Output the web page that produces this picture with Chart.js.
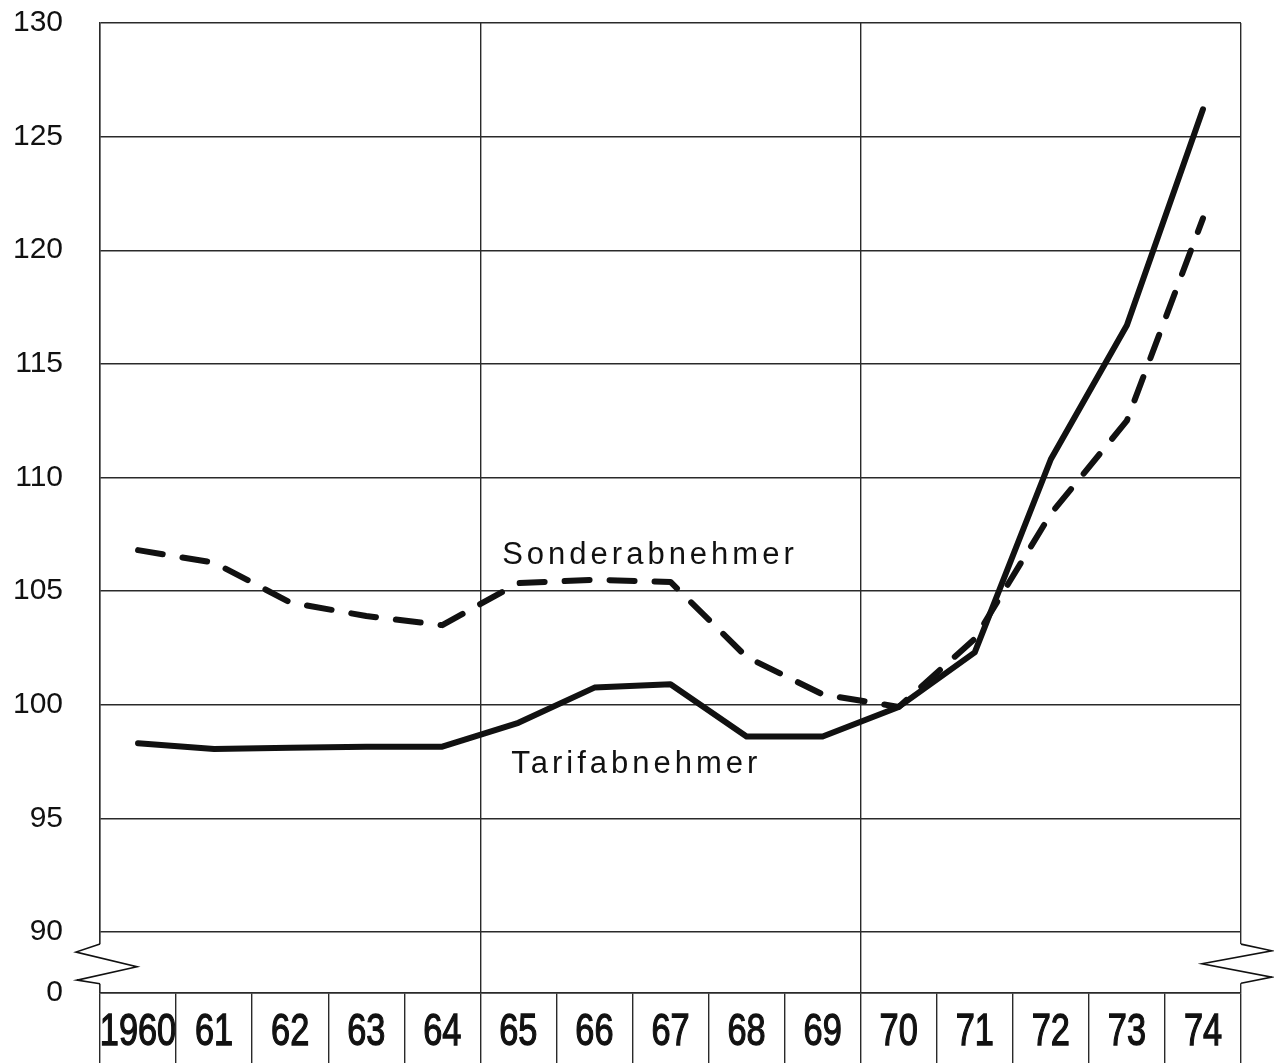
<!DOCTYPE html>
<html>
<head>
<meta charset="utf-8">
<script src="https://cdn.jsdelivr.net/npm/chart.js@4/dist/chart.umd.min.js"></script>
<style>
  html, body { margin: 0; padding: 0; background: #fff; }
  #wrap { width: 1274px; height: 1063px; position: relative; }
</style>
</head>
<body>
<div id="wrap"><canvas id="c" width="1274" height="1063"></canvas></div>
<script>
// ---- data ----
const years = ['1960', '61', '62', '63', '64', '65', '66', '67', '68', '69', '70', '71', '72', '73', '74'];
const tarifabnehmer = [98.3, 98.05, 98.1, 98.15, 98.15, 99.2, 100.75, 100.9, 98.6, 98.6, 99.9, 102.3, 110.8, 116.7, 126.2];
const sonderabnehmer = [106.8, 106.25, 104.5, 103.9, 103.5, 105.35, 105.5, 105.4, 102.1, 100.45, 99.9, 102.9, 108.4, 112.5, 121.4];
const yTickValues = [90, 95, 100, 105, 110, 115, 120, 125, 130];
const yBreakLabel = '0';
const seriesNames = ['Tarifabnehmer', 'Sonderabnehmer'];

const INK = '#111';
const GRID = '#2a2a2a';
const Y_MAX = 130;
const Y_BREAK = 87.31; // axis bottom, labelled "0" (broken axis)

// Category axis whose tick labels are drawn with narrow (condensed) glyphs
const BaseCategory = Chart.CategoryScale;
class CondensedCategoryScale extends BaseCategory {
  drawLabels(area) {
    const ctx = this.ctx;
    const proto = CanvasRenderingContext2D.prototype;
    const sx = this.options.ticks.condense || 1;
    const wrap = orig => function (t, x, y) {
      this.save();
      this.translate(x, y);
      this.scale(sx, 1);
      orig.call(this, t, 0, 0);
      this.restore();
    };
    ctx.fillText = wrap(proto.fillText);
    ctx.strokeText = wrap(proto.strokeText);
    try { super.drawLabels(area); } finally { delete ctx.fillText; delete ctx.strokeText; }
  }
}
CondensedCategoryScale.id = 'condensedCategory';
CondensedCategoryScale.defaults = BaseCategory.defaults;
Chart.register(CondensedCategoryScale);

const labelPlugin = {
  id: 'seriesLabels',
  afterDatasetsDraw(chart, args, opts) {
    const { ctx, scales: { x, y } } = chart;
    ctx.save();
    ctx.fillStyle = INK;
    ctx.font = '31px "Liberation Sans", Arial, sans-serif';
    ctx.textAlign = 'center';
    ctx.textBaseline = 'alphabetic';
    if ('letterSpacing' in ctx) ctx.letterSpacing = '4px';
    opts.items.forEach(it => {
      ctx.fillText(it.text, x.getPixelForValue(it.at), y.getPixelForValue(it.value));
    });
    ctx.restore();
  }
};

const breakPlugin = {
  id: 'axisBreak',
  afterDraw(chart) {
    const { ctx, chartArea: a, scales: { y } } = chart;
    const y90 = y.getPixelForValue(90);
    const y0 = a.bottom;
    const span = y0 - y90;
    const t = f => y90 + span * f;
    ctx.save();
    ctx.fillStyle = '#fff';
    ctx.fillRect(a.left - 3, t(0.2), 6, t(0.85) - t(0.2));
    ctx.fillRect(a.right - 3, t(0.2), 6, t(0.84) - t(0.2));
    ctx.strokeStyle = INK;
    ctx.lineWidth = 1.6;
    ctx.lineJoin = 'miter';
    ctx.beginPath();
    ctx.moveTo(a.left, t(0.2));
    ctx.lineTo(a.left - 24, t(0.33));
    ctx.lineTo(a.left + 37, t(0.57));
    ctx.lineTo(a.left - 23, t(0.79));
    ctx.lineTo(a.left, t(0.85));
    ctx.stroke();
    ctx.beginPath();
    ctx.moveTo(a.right, t(0.2));
    ctx.lineTo(a.right + 31, t(0.31));
    ctx.lineTo(a.right - 39, t(0.52));
    ctx.lineTo(a.right + 31, t(0.74));
    ctx.lineTo(a.right, t(0.84));
    ctx.stroke();
    ctx.restore();
  }
};

new Chart(document.getElementById('c'), {
  type: 'line',
  data: {
    labels: years,
    datasets: [
      {
        label: seriesNames[0],
        data: tarifabnehmer,
        borderColor: INK,
        borderWidth: 6,
        borderJoinStyle: 'round',
        borderCapStyle: 'round',
        pointRadius: 0,
        tension: 0,
        fill: false
      },
      {
        label: seriesNames[1],
        data: sonderabnehmer,
        borderColor: INK,
        borderWidth: 6,
        borderDash: [25, 20],
        borderJoinStyle: 'round',
        borderCapStyle: 'round',
        pointRadius: 0,
        tension: 0,
        fill: false
      }
    ]
  },
  options: {
    responsive: false,
    animation: false,
    events: [],
    layout: { padding: { top: 23, right: 33, left: 0, bottom: 0 } },
    plugins: {
      legend: { display: false },
      tooltip: { enabled: false },
      seriesLabels: {
        items: [
          { text: seriesNames[1], at: 6.73, value: 106.19 },
          { text: seriesNames[0], at: 6.55, value: 97.01 }
        ]
      }
    },
    scales: {
      x: {
        type: 'condensedCategory',
        offset: true,
        afterFit(s) { s.height = 70; s.paddingLeft = 0; s.paddingRight = 0; },
        grid: {
          offset: true,
          drawTicks: true,
          tickLength: 70,
          tickColor: GRID,
          tickWidth: 1.4,
          lineWidth: 1.4,
          color(ctx) {
            if (ctx.index === undefined) return GRID;
            return ctx.index % 5 === 0 ? GRID : 'rgba(0,0,0,0)';
          }
        },
        border: { display: true, color: GRID, width: 1.4 },
        ticks: {
          color: INK,
          textStrokeColor: INK,
          textStrokeWidth: 1.3,
          padding: -57,
          condense: 0.78,
          maxRotation: 0,
          autoSkip: false,
          font: { family: '"Liberation Sans", Arial, sans-serif', size: 44 }
        }
      },
      y: {
        min: Y_BREAK,
        max: Y_MAX,
        afterFit(s) { s.width = 100; s.paddingTop = 0; s.paddingBottom = 0; },
        afterBuildTicks(s) {
          s.ticks = [{ value: Y_BREAK }].concat(yTickValues.map(v => ({ value: v })));
        },
        grid: { drawTicks: false, color: GRID, lineWidth: 1.4 },
        border: { display: true, color: GRID, width: 1.4 },
        ticks: {
          color: INK,
          padding: 37,
          font: { family: '"Liberation Sans", Arial, sans-serif', size: 30 },
          callback(v) { return v < 89 ? yBreakLabel : String(v); }
        }
      }
    }
  },
  plugins: [labelPlugin, breakPlugin]
});
</script>
</body>
</html>
